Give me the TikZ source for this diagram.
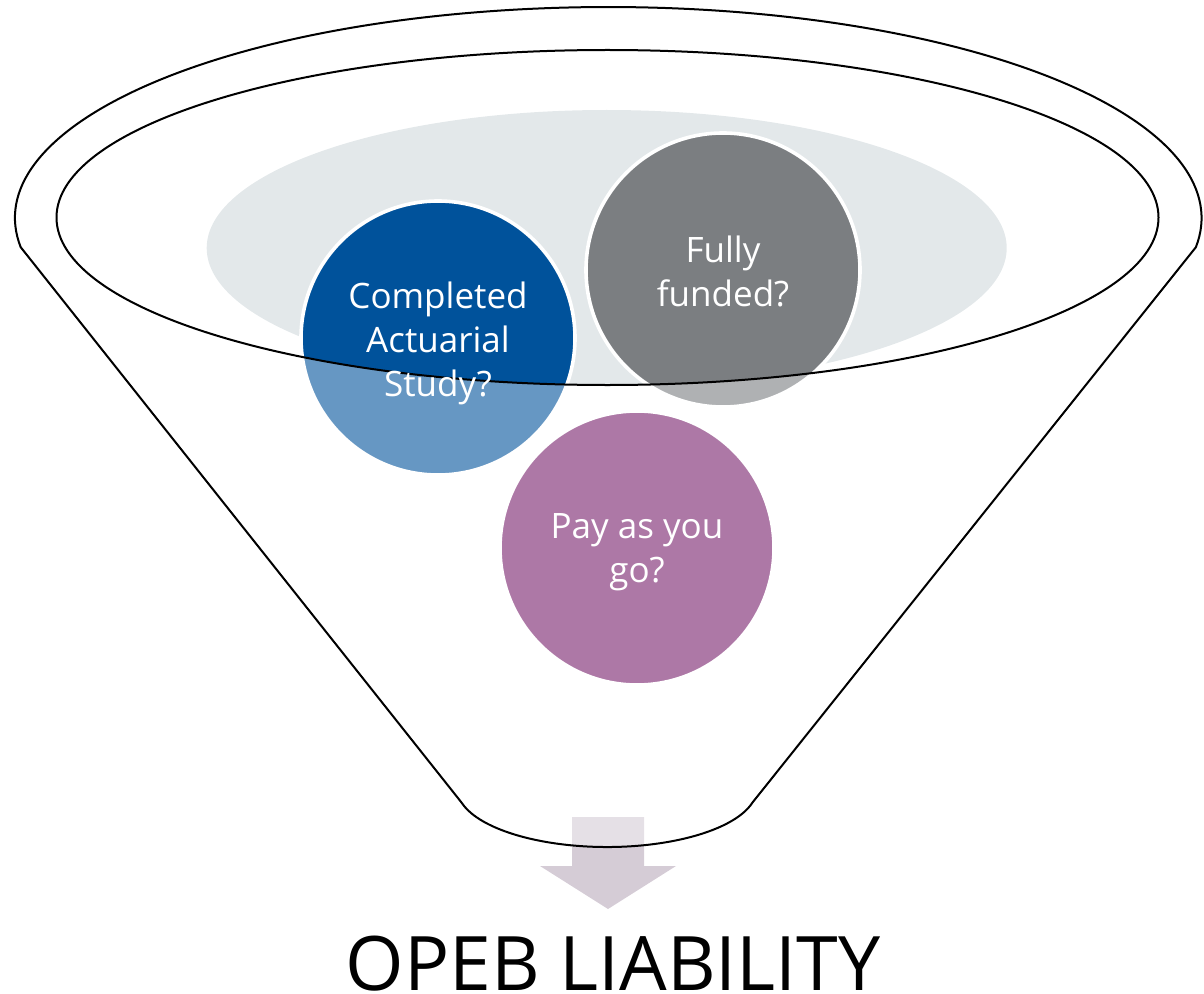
\documentclass[tikz,border=0pt]{standalone}
\usepackage{fontspec}
\newfontfamily\labelfont{Open Sans}
\definecolor{qblue}{HTML}{00529B}
\definecolor{qgray}{HTML}{7B7E81}
\definecolor{qpurple}{HTML}{AD78A6}
\definecolor{mouthgray}{HTML}{E3E8EA}
\definecolor{arrowmauve}{HTML}{D5CCD6}
\begin{document}
\begin{tikzpicture}[x=0.5pt,y=0.5pt,
  rim/.style={draw=black, line width=1pt, line join=round},
  ball/.style={circle, minimum size=137pt, inner sep=0pt, draw=white,
    line width=1.8pt},
  balltext/.style={text=white, align=center, inner sep=0pt,
    font=\labelfont\fontsize{17.5pt}{22pt}\selectfont},
]
\useasboundingbox (0,0) rectangle (1204,993);

% corner points of the funnel outline
\coordinate (tl) at (20.7,745.8);
\coordinate (tr) at (1195.9,745.8);
\coordinate (bl) at (461.5,190.5);
\coordinate (br) at (752.5,190.5);

% back disc inside the funnel mouth
\fill[mouthgray] (606.7,745) ellipse [x radius=400, y radius=138];

% questions sitting in the mouth
\node[ball, fill=qblue] (study) at (438,655) {};
\node[ball, fill=qgray] (funded) at (723,723) {};

% outflow arrow
\fill[arrowmauve] (572,176) -- (644,176) -- (644,127) -- (676,127)
  -- (608,84) -- (540,127) -- (572,127) -- cycle;

% translucent front of the funnel body
\fill[white, fill opacity=0.4, even odd rule]
  (tl) arc[start angle=187.95, end angle=-7.95, x radius=593.3, y radius=211]
  -- (br) arc[start angle=-14.07, end angle=-165.93, x radius=150, y radius=58.8]
  -- cycle
  (607.5,775.5) ellipse [x radius=551, y radius=167.5];

% question in front of the funnel
\node[ball, fill=qpurple] (payg) at (637,445) {};

% funnel outline and inner rim
\draw[rim] (tl) arc[start angle=187.95, end angle=-7.95, x radius=593.3, y radius=211]
  -- (br) arc[start angle=-14.07, end angle=-165.93, x radius=150, y radius=58.8]
  -- cycle;
\draw[rim] (607.5,775.5) ellipse [x radius=551, y radius=167.5];

% question texts
\node[balltext] (studytext) at ([yshift=-2.5pt]study.center) {Completed\\Actuarial\\Study?};
\node[balltext] (fundedtext) at ([yshift=-0.5pt]funded.center) {Fully\\funded?};
\node[balltext] (paygtext) at ([yshift=-2pt]payg.center) {Pay as you\\go?};

% result label
\node[anchor=base, inner sep=0pt, font=\labelfont\fontsize{37.6pt}{45pt}\selectfont]
  (result) at (613,2.6) {OPEB LIABILITY};
\end{tikzpicture}
\end{document}
